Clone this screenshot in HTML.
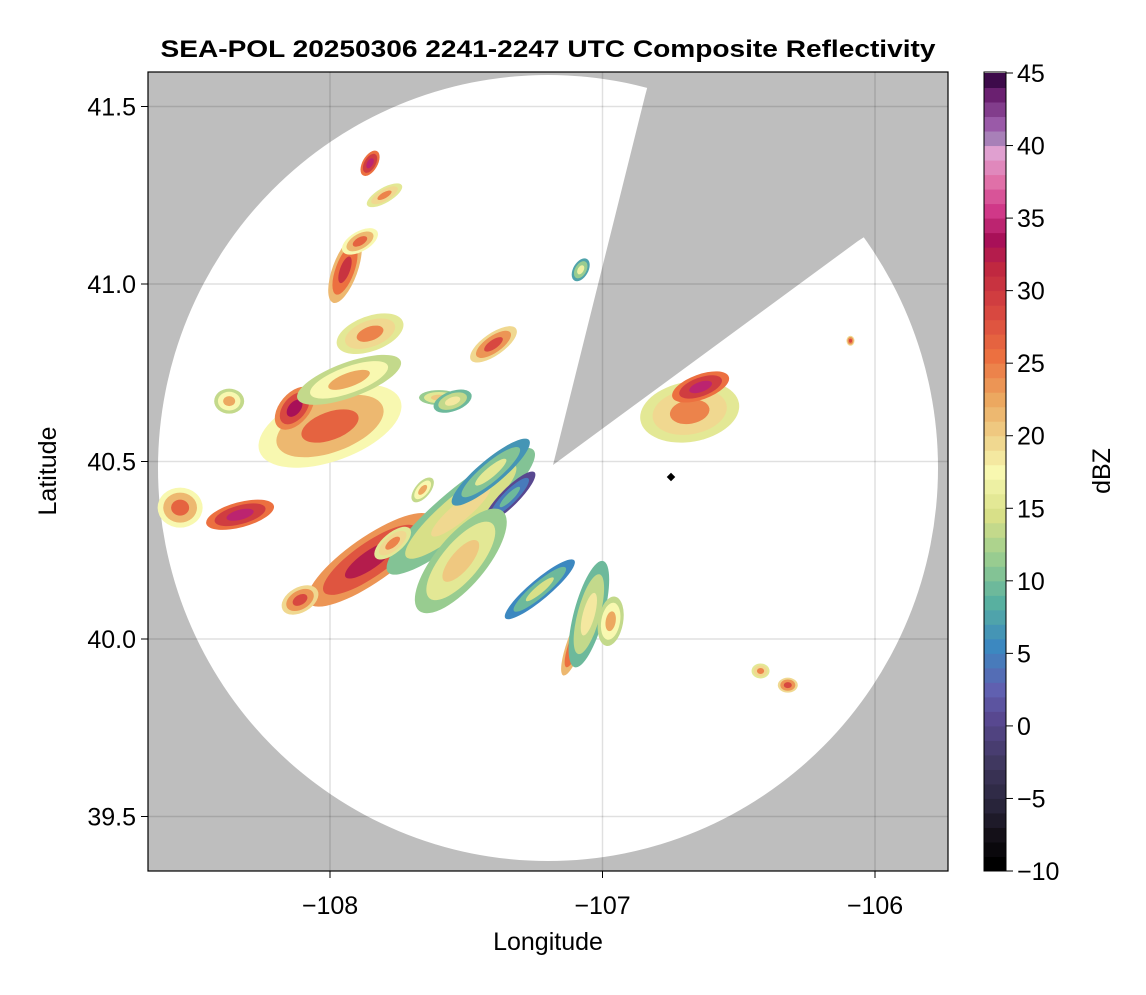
<!DOCTYPE html>
<html><head><meta charset="utf-8"><style>
body{margin:0;background:#fff}
svg text{font-family:"Liberation Sans",sans-serif}
</style></head><body>
<svg id="chart" width="1146" height="990" xmlns="http://www.w3.org/2000/svg">
<defs><clipPath id="pc"><rect x="148" y="72" width="800" height="799"/></clipPath></defs>
<text x="548" y="57" text-anchor="middle" font-size="24" font-weight="bold" textLength="775" lengthAdjust="spacingAndGlyphs">SEA-POL 20250306 2241-2247 UTC Composite Reflectivity</text>
<g id="plot" clip-path="url(#pc)"></g>
<rect x="148" y="72" width="800" height="799" fill="none" stroke="#000" stroke-width="1.2"/>
<g id="axes"></g>
<text x="548" y="950" text-anchor="middle" font-size="25">Longitude</text>
<text transform="translate(56,471) rotate(-90)" text-anchor="middle" font-size="25">Latitude</text>
<g id="cbar"></g>
<text transform="translate(1110,471) rotate(-90)" text-anchor="middle" font-size="25">dBZ</text>
</svg>
<script>
const xTicks=[-108,-107,-106];
const yTicks=[41.5,41.0,40.5,40.0,39.5];
const cbTicks=[45,40,35,30,25,20,15,10,5,0,-5,-10];
// storm cells: lon, lat, length, width, angle, dBZ
const cellLon=[-107.853,-107.52,-107.41,-107.34,-107.52,-107.10,-107.05,-107.23,-106.97,-108.0,-108.13,-107.93,-108.55,-108.33,-108.37,-107.945,-107.89,-107.853,-107.80,-107.853,-107.40,-106.68,-106.64,-107.08,-106.42,-106.32,-106.09,-108.11,-107.77,-107.66,-107.60,-107.55];
const cellLat=[40.223,40.36,40.47,40.40,40.22,39.99,40.07,40.14,40.05,40.60,40.65,40.73,40.37,40.35,40.67,41.04,41.12,41.34,41.25,40.86,40.83,40.64,40.71,41.04,39.91,39.87,40.84,40.11,40.27,40.42,40.68,40.67];
const cellLen=[150,190,100,70,130,70,110,90,50,150,50,110,45,70,30,70,40,28,40,70,55,100,60,25,18,20,8,40,45,30,40,40];
const cellWid=[45,45,25,18,50,16,30,20,25,70,30,35,40,25,25,25,20,15,15,35,22,60,25,15,15,15,10,25,20,15,15,20];
const cellAng=[-35,-40,-40,-45,-50,-70,-75,-40,-80,-20,-50,-20,0,-15,0,-70,-30,-60,-30,-20,-35,-10,-20,-60,0,0,0,-30,-40,-50,0,-20];
const cellDbz=[28,15,11,5,16,26,14,10,18,22,29,18,22,30,18,26,22,30,20,20,24,20,30,12,20,24,24,24,20,18,16,14];

const X=lon=>330+(lon+108)*272.5, Y=lat=>284-(lat-41)*355;
const stops=[[45,[61,10,74]],[43,[106,32,112]],[41,[154,90,168]],[40,[168,128,184]],[39,[224,160,208]],[37,[224,112,168]],[35,[208,56,136]],[33,[168,16,88]],[31,[192,40,64]],[28,[216,72,64]],[25,[236,112,64]],[22,[236,168,96]],[19,[240,216,144]],[17,[248,248,176]],[14,[216,224,136]],[11,[152,204,144]],[8,[88,176,160]],[5,[60,136,192]],[2,[96,96,176]],[0,[88,72,144]],[-3,[64,56,96]],[-6,[40,36,58]],[-8,[20,16,24]],[-10,[0,0,0]]];
function col(v){v=Math.max(-10,Math.min(45,Math.round(v)));for(let i=0;i<stops.length-1;i++){const a=stops[i],b=stops[i+1];if(v<=a[0]&&v>=b[0]){const t=(a[0]-v)/(a[0]-b[0]||1);return'rgb('+a[1].map((c,k)=>Math.round(c+(b[1][k]-c)*t)).join(',')+')';}}return'#000';}
const NS='http://www.w3.org/2000/svg';
function mk(t,a,p){const e=document.createElementNS(NS,t);for(const k in a)e.setAttribute(k,a[k]);p.appendChild(e);return e;}
const plot=document.getElementById('plot');
const bg=mk('rect',{x:148,y:72,width:800,height:799,fill:'#bebebe'},plot);


const disk=mk('ellipse',{cx:548,cy:468,rx:390,ry:393,fill:'#fff'},plot);


const wedge=mk('polygon',{points:'553,465 645,96 660,40 1000,40 1000,150 858,241',fill:'#bebebe'},plot);


xTicks.forEach(v=>{const l=mk('line',{x1:X(v),x2:X(v),y1:72,y2:871,stroke:'#000','stroke-opacity':0.12,'stroke-width':1.5},plot);

});
yTicks.forEach(v=>{const l=mk('line',{x1:148,x2:948,y1:Y(v),y2:Y(v),stroke:'#000','stroke-opacity':0.12,'stroke-width':1.5},plot);

});
cellLon.forEach((lon,i)=>{const g=mk('g',{transform:`translate(${X(lon)},${Y(cellLat[i])}) rotate(${cellAng[i]})`},plot);


[[1,-5],[0.75,-1],[0.4,4]].forEach(([s,d])=>mk('ellipse',{rx:cellLen[i]/2*s,ry:cellWid[i]/2*s,fill:col(cellDbz[i]+d)},g));});
const dm=mk('rect',{x:-3,y:-3,width:6,height:6,fill:'#000',transform:'translate(671,477) rotate(45)'},plot);


const ax=document.getElementById('axes');
xTicks.forEach(v=>{mk('line',{x1:X(v),x2:X(v),y1:871,y2:878,stroke:'#000'},ax);const t=mk('text',{x:X(v),y:914,'text-anchor':'middle','font-size':25},ax);t.textContent='\u2212'+Math.abs(v);

});
yTicks.forEach(v=>{mk('line',{x1:141,x2:148,y1:Y(v),y2:Y(v),stroke:'#000'},ax);const t=mk('text',{x:136,y:Y(v)+9,'text-anchor':'end','font-size':25},ax);t.textContent=v.toFixed(1);

});
const cb=document.getElementById('cbar');
const CY=v=>73+(45-v)*(798/55);
for(let v=-10;v<45;v++)mk('rect',{x:984,y:CY(v+1),width:22,height:798/55+0.5,fill:col(v+0.5>44?45:v)},cb);
mk('rect',{x:984,y:72,width:22,height:799,fill:'none',stroke:'#000'},cb);
cbTicks.forEach(v=>{mk('line',{x1:1006,x2:1013,y1:CY(v),y2:CY(v),stroke:'#000'},cb);const t=mk('text',{x:1017,y:CY(v)+9,'font-size':25},cb);t.textContent=(v<0?'\u2212'+(-v):v);

});
</script>
</body></html>
